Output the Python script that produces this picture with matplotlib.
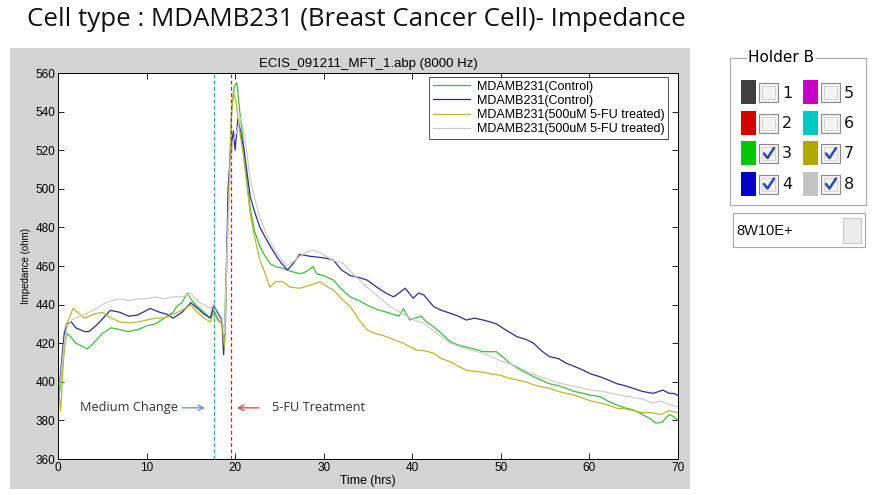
import numpy as np
import matplotlib
matplotlib.use('Agg')
import matplotlib.pyplot as plt
from matplotlib.patches import Rectangle

plt.rcParams['font.family'] = ['Liberation Sans', 'DejaVu Sans']

# ---- datos ----
t_green = [0, 0.3, 0.7, 1.0, 1.5, 2.0, 2.5, 3.3, 4.0, 5.0, 6.0, 7.0, 7.9, 9.0, 10.0, 11.0, 12.0, 13.0, 13.4,
           14.0, 14.6, 15.0, 15.5, 16.0, 16.5, 17.2, 17.6, 18.0, 18.5, 18.8, 19.0, 19.3, 19.6, 19.9, 20.2, 20.5,
           20.9, 21.3, 21.7, 22.2, 22.8, 23.4, 24.0, 24.7, 25.3, 25.8, 26.5, 27.3, 28.0, 28.8, 29.2, 30.0, 31.1,
           32.0, 33.0, 34.0, 34.9, 36.0, 37.5, 38.5, 39.0, 39.7, 40.3, 41.0, 41.6, 42.4, 43.3, 44.3, 45.2, 46.1,
           47.0, 48.0, 49.5, 50.2, 51.0, 52.3, 53.7, 54.5, 55.5, 56.5, 57.4, 58.3, 59.3, 60.2, 61.2, 62.1, 63.1,
           64.0, 65.0, 66.0, 66.8, 67.5, 68.2, 69.0, 69.5, 70.0]
v_green = [388, 400, 418, 425, 423, 420, 419, 417, 420, 425, 428, 427, 426, 427, 429, 430, 433, 436, 439,
           441, 446, 443, 440, 438, 436, 433, 437, 433, 430, 428, 460, 500, 540, 553, 555, 541,
           525, 505, 490, 478, 470, 465, 461, 459.5, 459, 458, 457, 456, 457, 459.7, 456, 455, 452.7,
           448, 444, 442, 439.8, 437.5, 435.5, 434, 438, 432, 433, 434, 431, 428.6, 425, 420.8, 419, 418,
           417, 415.6, 415.6, 413, 409.6, 406, 402.6, 401, 399, 398, 396.6, 395, 394, 393, 392.3, 390, 388,
           386.5, 385.4, 383, 381, 378.6, 379, 383, 382, 380]

t_blue = [0, 0.3, 0.7, 1.0, 1.5, 2.0, 3.0, 3.5, 4.5, 5.9, 7.0, 8.0, 9.0, 10.4, 11.5, 12.3, 13.0, 14.0, 15.0,
          15.5, 16.0, 16.5, 17.2, 17.6, 18.0, 18.5, 18.7, 18.9, 19.2, 19.5, 19.8, 20.0, 20.3, 20.6, 21.0, 21.7,
          22.2, 22.8, 23.5, 24.0, 24.7, 25.3, 25.9, 26.5, 27.3, 28.5, 29.5, 30.3, 31.1, 32.0, 33.0, 34.0, 34.9,
          36.0, 37.0, 37.9, 38.5, 39.2, 40.1, 40.7, 41.3, 42.4, 43.3, 44.3, 45.2, 46.1, 47.0, 48.0, 48.8, 49.5,
          50.5, 51.8, 52.8, 53.7, 54.6, 55.5, 56.5, 57.4, 58.3, 59.3, 60.2, 61.2, 62.1, 63.1, 64.0, 64.95, 66.0,
          67.2, 68.3, 69.0, 69.5, 70.0]
v_blue = [392, 405, 425, 430, 431, 428, 426, 426, 430, 437, 436, 434, 434.6, 438, 436, 435, 433, 436, 441,
          439, 437, 435, 433, 440, 436, 432, 414, 430, 500, 520, 530, 520, 536, 530, 520, 496,
          488, 480, 474, 470, 464.7, 461, 458, 461, 466, 465, 464.5, 464, 463, 458, 455, 454, 452.7,
          449, 446, 444, 446, 448.5, 443.3, 446, 445, 439, 437, 435.5, 434, 432, 433, 432, 431, 430,
          427, 423.4, 422, 420, 416, 413, 412, 409.6, 408, 406, 404, 402.6, 401, 399, 398, 396.6, 395,
          394, 395.7, 394, 394, 393]

t_yellow = [0, 0.3, 0.6, 1.0, 1.7, 2.2, 3.0, 4.0, 5.0, 6.0, 7.0, 8.0, 9.0, 10.0, 11.0, 12.0, 13.0, 14.0, 15.0,
            15.5, 16.0, 16.5, 17.2, 17.6, 18.0, 18.5, 18.8, 19.0, 19.3, 19.6, 19.8, 20.1, 20.5, 21.0, 21.7, 22.2,
            22.8, 23.4, 23.9, 24.6, 25.4, 26.2, 27.3, 28.4, 29.6, 30.5, 31.1, 32.0, 33.0, 34.0, 34.9, 35.8, 36.7,
            37.8, 39.0, 39.8, 40.5, 41.5, 42.4, 43.3, 44.3, 45.2, 46.1, 47.0, 48.0, 49.0, 49.9, 50.8, 51.8, 52.8,
            53.7, 54.6, 55.5, 56.5, 57.4, 58.3, 59.3, 60.2, 61.2, 62.1, 63.1, 64.0, 65.0, 66.0, 67.0, 68.0, 69.0,
            70.0]
v_yellow = [400, 385, 410, 430, 438, 436, 433, 435, 436, 433, 431, 430.5, 431, 432, 433, 433, 435, 437, 440,
            437, 435, 433, 431, 435, 432, 430, 418, 450, 500, 540, 550, 545, 530, 515, 487, 475,
            463, 456, 449, 452, 451.8, 449, 448.5, 450, 451.8, 449, 447.6, 443, 439, 432, 426.8, 425, 424,
            422, 420, 418, 416.5, 416, 414.8, 412, 410.4, 408, 406, 405.5, 405, 404, 403.5, 402, 401, 400,
            398.4, 397.5, 396.6, 395, 394, 393, 391.5, 390, 389, 388, 386.3, 386, 385, 384, 384, 383, 385,
            384]

t_gray = [0, 0.3, 0.7, 1.0, 1.5, 2.5, 4.0, 5.0, 6.0, 7.0, 8.0, 9.0, 10.0, 11.0, 12.0, 13.0, 14.0, 15.0, 15.5,
          16.0, 16.5, 17.2, 17.6, 18.0, 18.5, 18.8, 19.1, 19.5, 19.8, 20.2, 20.6, 21.0, 21.7, 22.2, 22.8, 23.4,
          24.0, 24.8, 25.8, 26.5, 27.3, 28.0, 28.8, 29.5, 30.3, 31.0, 32.2, 33.5, 34.9, 36.2, 37.5, 39.0, 40.2,
          41.3, 42.8, 44.3, 46.1, 48.0, 49.9, 51.8, 53.1, 54.4, 55.5, 56.5, 57.5, 59.0, 60.0, 61.5, 63.0, 64.5,
          66.0, 67.2, 68.0, 68.6, 69.3, 70.0]
v_gray = [395, 402, 420, 428, 432, 434, 437, 440, 442, 443, 442, 443, 443, 444, 443, 444, 444, 446, 443,
          441, 440, 438, 440, 437, 433, 425, 470, 515, 525, 530, 537, 530, 505, 495, 485, 478,
          472, 466, 460, 462, 465, 467, 468.3, 467, 465, 463, 461.4, 455, 449, 444, 439, 435, 432,
          430.3, 425, 420, 417, 414.8, 411, 408, 405, 402.6, 401, 399.5, 398.4, 397, 395.8, 395, 393.5, 392.3,
          391, 389, 390, 389, 388, 387]

labels = ['MDAMB231(Control)', 'MDAMB231(Control)',
          'MDAMB231(500uM 5-FU treated)', 'MDAMB231(500uM 5-FU treated)']
colores = ['#3cbf3c', '#2b2ba6', '#b9b925', '#cdcdcd']

t_medio = 17.6
t_5fu = 19.5

holder_ids = [1, 2, 3, 4, 5, 6, 7, 8]
holder_colors = ['#3f3f3f', '#d40000', '#00c800', '#0000c8', '#c800c8', '#00c8c8', '#b0a800', '#c4c4c4']
holder_checked = [False, False, True, True, False, False, True, True]

W, H = 874, 495
fig = plt.figure(figsize=(W / 100, H / 100), dpi=100)
fig.patch.set_facecolor('white')

# capa de fondo en pixeles
bg = fig.add_axes([0, 0, 1, 1], zorder=0)
bg.set_xlim(0, W)
bg.set_ylim(H, 0)
bg.axis('off')

bg.text(27, 20, 'Cell type : MDAMB231 (Breast Cancer Cell)- Impedance', fontsize=18.6,
        family=['Open Sans', 'DejaVu Sans'], va='center', ha='left', color='#111111')
bg.add_patch(Rectangle((10, 48), 680, 441, facecolor='#d4d4d4', edgecolor='none'))

# --- panel Holder B ---
bg.add_patch(Rectangle((730, 58), 136, 147, facecolor='none', edgecolor='#a8a8a8', lw=0.8))
bg.text(748, 58, 'Holder B', fontsize=11, va='center', ha='left', family=['DejaVu Sans'],
        bbox=dict(facecolor='white', edgecolor='none', pad=1))
for i, (hid, hc, chk) in enumerate(zip(holder_ids, holder_colors, holder_checked)):
    col, row = divmod(i, 4)
    x0 = 741 + col * 62
    yc = 92 + row * 30.5
    bg.add_patch(Rectangle((x0, yc - 12), 15, 24, facecolor=hc, edgecolor='none'))
    bx = x0 + 18
    bg.add_patch(Rectangle((bx, yc - 9), 19, 19, facecolor='#f4f4f4', edgecolor='#8a8a8a', lw=0.8))
    bg.add_patch(Rectangle((bx + 3, yc - 6), 13, 13, facecolor='none', edgecolor='#d0d0d0', lw=0.6))
    if chk:
        bg.plot([bx + 5, bx + 8.5, bx + 15], [yc + 0.5, yc + 5, yc - 5], color='#2848c0', lw=1.8,
                solid_capstyle='round')
    bg.text(bx + 28, yc + 1, str(hid), fontsize=11.5, va='center', ha='center', color='#111111',
            family=['DejaVu Sans'])

bg.add_patch(Rectangle((733, 213), 132, 34, facecolor='white', edgecolor='#a8a8a8', lw=0.8))
bg.text(736, 231, '8W10E+', fontsize=10.5, va='center', ha='left', color='#111111')
bg.add_patch(Rectangle((843, 218), 18, 25, facecolor='#ececec', edgecolor='#c8c8c8', lw=0.8))

# --- grafico principal ---
ax = fig.add_axes([58 / W, (H - 459) / H, 620 / W, 386 / H], zorder=1)
ax.set_facecolor('white')

series = [(t_green, v_green), (t_blue, v_blue), (t_yellow, v_yellow), (t_gray, v_gray)]
for (tt, vv), c, lab in zip(series, colores, labels):
    ax.plot(tt, vv, color=c, lw=0.9, label=lab)

ax.axvline(t_medio, color='#1aa8a8', lw=0.9, ls=(0, (3, 2)))
ax.axvline(t_5fu, color='#d42020', lw=0.9, ls=(0, (3, 2)))

ax.set_xlim(0, 70)
ax.set_ylim(360, 560)
ax.set_xticks(np.arange(0, 71, 10))
ax.set_yticks(np.arange(360, 561, 20))
ax.tick_params(direction='in', top=True, right=True, labelsize=8.5, length=4, width=0.6, pad=2)
for s in ax.spines.values():
    s.set_linewidth(0.7)

ax.set_title('ECIS_091211_MFT_1.abp (8000 Hz)', fontsize=9.5, pad=4)
ax.set_xlabel('Time (hrs)', fontsize=8.8, labelpad=1)
ax.set_ylabel('Impedance (ohm)', fontsize=7, labelpad=3)

leg = ax.legend(loc='upper right', bbox_to_anchor=(0.984, 0.99), fontsize=9, frameon=True,
                fancybox=False, labelspacing=0.18, handlelength=3.0, handletextpad=0.5,
                borderpad=0.3, borderaxespad=0)
leg.get_frame().set_edgecolor('black')
leg.get_frame().set_linewidth(0.6)

# anotaciones
ax.text(2.5, 386.5, 'Medium Change', fontsize=9.2, va='center', ha='left', color='#333333',
        family=['Open Sans', 'DejaVu Sans'])
ax.annotate('', xy=(16.9, 386.5), xytext=(13.7, 386.5),
            arrowprops=dict(arrowstyle='->', color='#6a8cd0', lw=0.9))
ax.annotate('', xy=(19.9, 386.5), xytext=(23.0, 386.5),
            arrowprops=dict(arrowstyle='->', color='#d84040', lw=0.9))
ax.text(24.2, 386.5, '5-FU Treatment', fontsize=9.2, va='center', ha='left', color='#333333',
        family=['Open Sans', 'DejaVu Sans'])

fig.savefig('out.png', dpi=100)
plt.close(fig)
